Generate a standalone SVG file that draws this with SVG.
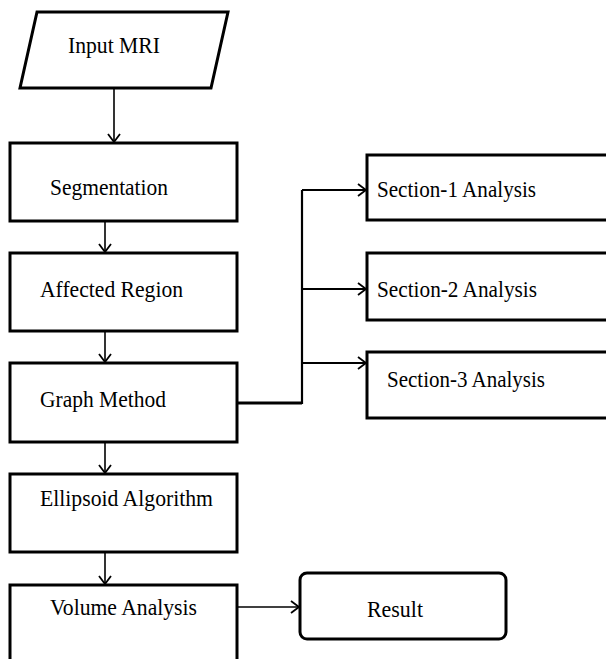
<svg xmlns="http://www.w3.org/2000/svg" width="606" height="659" viewBox="0 0 606 659">
<defs>
<style>
.box{fill:#fff;stroke:#000;stroke-width:3}
.t{font-family:"Liberation Serif","Times New Roman",serif;font-size:24px;fill:#000}
.ln{fill:none;stroke:#000;stroke-width:1.6}
.th{fill:none;stroke:#000;stroke-width:3}
.br{fill:none;stroke:#000;stroke-width:2.2}
</style>
<marker id="ah" markerWidth="12" markerHeight="14" refX="10" refY="7" orient="auto" markerUnits="userSpaceOnUse">
<path d="M2,1 L10,7 L2,13" fill="none" stroke="#000" stroke-width="1.8"/>
</marker>
</defs>
<rect width="606" height="659" fill="#fff"/>
<g id="connectors">
<line class="ln" x1="114" y1="88" x2="114" y2="142" marker-end="url(#ah)"/>
<line class="ln" x1="105" y1="221" x2="105" y2="252" marker-end="url(#ah)"/>
<line class="ln" x1="105" y1="331" x2="105" y2="362" marker-end="url(#ah)"/>
<line class="ln" x1="105" y1="442" x2="105" y2="473" marker-end="url(#ah)"/>
<line class="ln" x1="105" y1="552" x2="105" y2="584" marker-end="url(#ah)"/>
<line class="ln" x1="237" y1="607" x2="299" y2="607" marker-end="url(#ah)"/>
<polyline class="th" points="237,403 302,403"/>
<line class="br" x1="302" y1="190" x2="302" y2="404"/>
<line class="br" x1="302" y1="190" x2="366" y2="190" marker-end="url(#ah)"/>
<line class="br" x1="302" y1="289" x2="366" y2="289" marker-end="url(#ah)"/>
<line class="br" x1="302" y1="363" x2="366" y2="363" marker-end="url(#ah)"/>
</g>
<g id="input">
<polygon class="box" points="37,12 228,12 211,88 20,88"/>
<text class="t" x="68" y="53" textLength="92" lengthAdjust="spacingAndGlyphs">Input MRI</text>
</g>
<g id="segmentation">
<rect class="box" x="10" y="143" width="227" height="78"/>
<text class="t" x="50" y="195" textLength="118" lengthAdjust="spacingAndGlyphs">Segmentation</text>
</g>
<g id="affected">
<rect class="box" x="10" y="253" width="227" height="78"/>
<text class="t" x="40" y="297" textLength="143" lengthAdjust="spacingAndGlyphs">Affected Region</text>
</g>
<g id="graph">
<rect class="box" x="10" y="363" width="227" height="79"/>
<text class="t" x="40" y="407" textLength="126" lengthAdjust="spacingAndGlyphs">Graph Method</text>
</g>
<g id="ellipsoid">
<rect class="box" x="10" y="474" width="227" height="78"/>
<text class="t" x="40" y="506" textLength="173" lengthAdjust="spacingAndGlyphs">Ellipsoid Algorithm</text>
</g>
<g id="volume">
<rect class="box" x="10" y="585" width="227" height="90"/>
<text class="t" x="50" y="615" textLength="147" lengthAdjust="spacingAndGlyphs">Volume Analysis</text>
</g>
<g id="section1">
<rect class="box" x="367" y="155" width="260" height="65"/>
<text class="t" x="377" y="197" textLength="159" lengthAdjust="spacingAndGlyphs">Section-1 Analysis</text>
</g>
<g id="section2">
<rect class="box" x="367" y="253" width="260" height="67"/>
<text class="t" x="377" y="297" textLength="160" lengthAdjust="spacingAndGlyphs">Section-2 Analysis</text>
</g>
<g id="section3">
<rect class="box" x="367" y="352" width="260" height="66"/>
<text class="t" x="387" y="387" textLength="158" lengthAdjust="spacingAndGlyphs">Section-3 Analysis</text>
</g>
<g id="result">
<rect class="box" x="300" y="573" width="206" height="66" rx="7" ry="7"/>
<text class="t" x="367" y="617" textLength="56" lengthAdjust="spacingAndGlyphs">Result</text>
</g>
</svg>
